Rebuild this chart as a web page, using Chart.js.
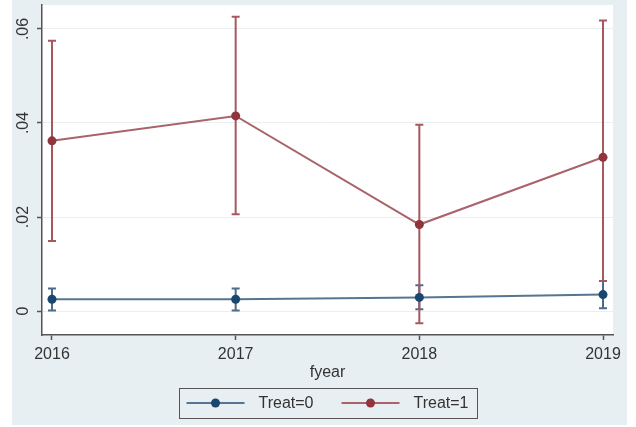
<!DOCTYPE html>
<html>
<head>
<meta charset="utf-8">
<script src="https://cdn.jsdelivr.net/npm/chart.js@4.4.1/dist/chart.umd.min.js"></script>
<style>
  html, body { margin: 0; padding: 0; background: #fff; }
  #wrap { width: 636px; height: 427px; }
</style>
</head>
<body>
<div id="wrap"><canvas id="chart" width="636" height="427"></canvas></div>
<script>
/* ---------- DATA ---------- */
const years = [2016, 2017, 2018, 2019];
const yTicks = [0, 0.02, 0.04, 0.06];
const yTickLabels = ["0", ".02", ".04", ".06"];

const treat0Mean = [0.0025, 0.0025, 0.0029, 0.0035];
const treat0Lo   = [0.0001, 0.0001, 0.0004, 0.0006];
const treat0Hi   = [0.0048, 0.0048, 0.0055, 0.0064];

const treat1Mean = [0.0362, 0.0415, 0.0184, 0.0327];
const treat1Lo   = [0.0149, 0.0206, -0.0026, 0.0064];
const treat1Hi   = [0.0575, 0.0626, 0.0396, 0.0618];

const FONT = "'Liberation Sans', Arial, sans-serif";
const AXIS = "#555";
const BG = "#e7eff2";

/* ---------- PLUGINS ---------- */
// stata-ish background: light graph region, white plot region
const background = {
  id: "background",
  beforeDraw(chart) {
    const { ctx, chartArea: a } = chart;
    ctx.save();
    ctx.fillStyle = "#fff";
    ctx.fillRect(0, 0, chart.width, chart.height);
    ctx.fillStyle = BG;
    ctx.fillRect(12, 0, 615, 425);
    ctx.fillStyle = "#fff";
    ctx.fillRect(a.left, a.top, a.right - a.left, a.bottom - a.top);
    ctx.restore();
  }
};

// confidence interval spikes with caps
const errorBars = {
  id: "errorBars",
  beforeDatasetsDraw(chart) {
    const { ctx, scales: { x, y } } = chart;
    ctx.save();
    chart.data.datasets.forEach((ds) => {
      ctx.strokeStyle = ds.ciColor;
      ctx.lineWidth = 2;
      ds.data.forEach((p, i) => {
        const px = x.getPixelForValue(p.x);
        const top = y.getPixelForValue(ds.hi[i]);
        const bot = y.getPixelForValue(ds.lo[i]);
        ctx.beginPath();
        ctx.moveTo(px, top); ctx.lineTo(px, bot);
        ctx.moveTo(px - 4, top); ctx.lineTo(px + 4, top);
        ctx.moveTo(px - 4, bot); ctx.lineTo(px + 4, bot);
        ctx.stroke();
      });
    });
    ctx.restore();
  }
};

// boxed legend below the axis title, line + marker keys
const boxLegend = {
  id: "boxLegend",
  afterDraw(chart) {
    const { ctx, chartArea: a } = chart;
    const sets = chart.data.datasets;
    ctx.save();
    ctx.font = "16px " + FONT;
    const keyLen = 58, gap = 14, itemGap = 28, pad = 8;
    const widths = sets.map(ds => keyLen + gap + ctx.measureText(ds.label).width);
    const total = widths.reduce((s, w) => s + w, 0) + itemGap * (sets.length - 1) + pad * 2;
    const cx = (a.left + a.right) / 2;
    const left = cx - total / 2, top = 388, h = 30, mid = top + h / 2;

    ctx.strokeStyle = AXIS;
    ctx.lineWidth = 1;
    ctx.strokeRect(Math.round(left) + 0.5, top + 0.5, Math.round(total), h);

    let xPos = left + pad;
    sets.forEach((ds, i) => {
      ctx.strokeStyle = ds.borderColor;
      ctx.lineWidth = 2;
      ctx.beginPath();
      ctx.moveTo(xPos, mid); ctx.lineTo(xPos + keyLen, mid);
      ctx.stroke();
      ctx.fillStyle = ds.pointBackgroundColor;
      ctx.beginPath();
      ctx.arc(xPos + keyLen / 2, mid, 4.5, 0, Math.PI * 2);
      ctx.fill();
      ctx.fillStyle = "#333";
      ctx.textBaseline = "middle";
      ctx.textAlign = "left";
      ctx.fillText(ds.label, xPos + keyLen + gap, mid + 1);
      xPos += widths[i] + itemGap;
    });
    ctx.restore();
  }
};

/* ---------- CHART ---------- */
const ctx = document.getElementById("chart").getContext("2d");

new Chart(ctx, {
  type: "line",
  data: {
    datasets: [
      {
        label: "Treat=0",
        data: years.map((yr, i) => ({ x: yr, y: treat0Mean[i] })),
        lo: treat0Lo,
        hi: treat0Hi,
        ciColor: "#4c6b8a",
        borderColor: "#557591",
        borderWidth: 2,
        pointRadius: 4.5,
        pointBackgroundColor: "#1a476f",
        pointBorderWidth: 0,
        tension: 0
      },
      {
        label: "Treat=1",
        data: years.map((yr, i) => ({ x: yr, y: treat1Mean[i] })),
        lo: treat1Lo,
        hi: treat1Hi,
        ciColor: "#a5585e",
        borderColor: "#a8646a",
        borderWidth: 2,
        pointRadius: 4.5,
        pointBackgroundColor: "#90353b",
        pointBorderWidth: 0,
        tension: 0
      }
    ]
  },
  options: {
    responsive: false,
    animation: false,
    layout: { padding: { left: 12, right: 23, top: 5, bottom: 45 } },
    plugins: { legend: { display: false }, tooltip: { enabled: false } },
    scales: {
      x: {
        type: "linear",
        min: 2015.9456,
        max: 2019.0544,
        afterBuildTicks: s => { s.ticks = years.map(v => ({ value: v })); },
        afterFit: s => { s.height = 47; s.paddingLeft = 0; s.paddingRight = 0; },
        ticks: {
          callback: v => String(v),
          font: { family: FONT, size: 16 },
          color: "#333",
          padding: 5,
          maxRotation: 0,
          autoSkip: false
        },
        grid: { drawOnChartArea: false, tickLength: 5, tickColor: AXIS, tickWidth: 1.5 },
        border: { color: AXIS, width: 1.5 },
        title: { display: true, text: "fyear", font: { family: FONT, size: 16 }, color: "#333", padding: 0 }
      },
      y: {
        type: "linear",
        min: -0.0051,
        max: 0.0651,
        afterBuildTicks: s => { s.ticks = yTicks.map(v => ({ value: v })); },
        afterFit: s => { s.width = 30; s.paddingTop = 0; s.paddingBottom = 0; },
        ticks: {
          callback: (v, i) => yTickLabels[i],
          font: { family: FONT, size: 16 },
          color: "#333",
          padding: 2,
          minRotation: 90,
          maxRotation: 90,
          crossAlign: "center"
        },
        grid: { color: "#eaf0f2", lineWidth: 1, tickLength: 5, tickColor: AXIS, tickWidth: 1.5 },
        border: { color: AXIS, width: 1.5 }
      }
    }
  },
  plugins: [background, errorBars, boxLegend]
});
</script>
</body>
</html>
